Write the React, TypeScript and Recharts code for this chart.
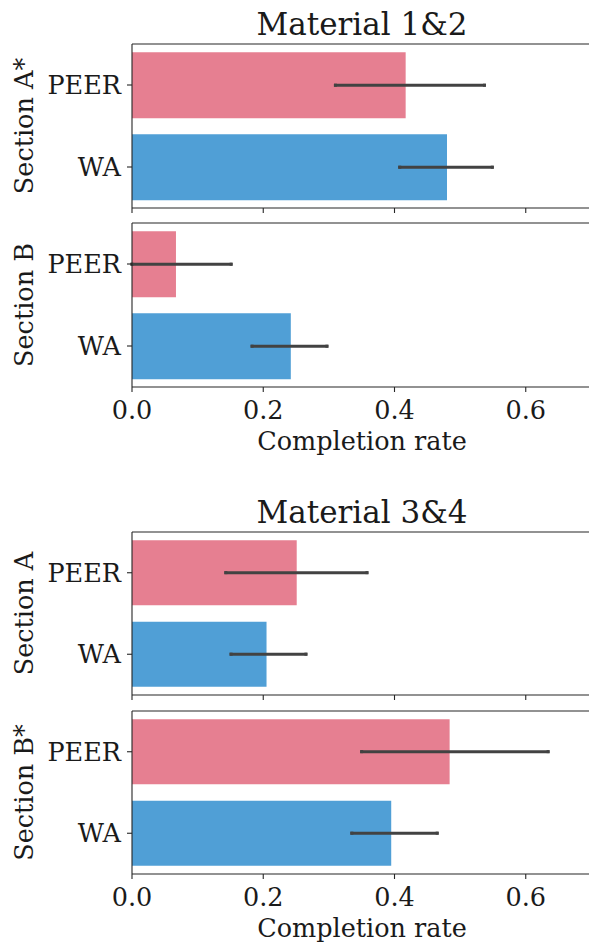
import React from "react";
import { BarChart, Bar, XAxis, YAxis, ErrorBar, Cell } from "recharts";

// categories and colours
const groups = ["PEER", "WA"];
const barColors = ["#e67f91", "#509fd6"];

// Material 1&2
const mat12SecAMean = [0.417, 0.48];
const mat12SecALow = [0.31, 0.408];
const mat12SecAHigh = [0.537, 0.549];

const mat12SecBMean = [0.067, 0.242];
const mat12SecBLow = [0.0, 0.183];
const mat12SecBHigh = [0.151, 0.297];

// Material 3&4
const mat34SecAMean = [0.251, 0.205];
const mat34SecALow = [0.143, 0.151];
const mat34SecAHigh = [0.358, 0.265];

const mat34SecBMean = [0.484, 0.395];
const mat34SecBLow = [0.35, 0.335];
const mat34SecBHigh = [0.634, 0.465];

const xTicks = [0, 0.2, 0.4, 0.6];
// the figure is cropped on the right, so the axis runs past the page edge
const xDomain: [number, number] = [0, 0.8];

const FONT = "'DejaVu Serif', serif";
const TEXT = "#1a1a1a";
const SPINE = "#262626";
const LABEL_SIZE = 25.5;

function buildRows(mean: number[], lo: number[], hi: number[]) {
  return groups.map((g, i) => ({
    group: g,
    rate: mean[i],
    err: [mean[i] - lo[i], hi[i] - mean[i]],
  }));
}

const tickStyle = { fontSize: LABEL_SIZE, fill: TEXT, fontFamily: FONT };

function SideLabel(props: any) {
  const { viewBox, text } = props;
  const cx = viewBox.x + 24;
  const cy = viewBox.y + viewBox.height / 2;
  return (
    <text
      x={cx}
      y={cy}
      transform={`rotate(-90 ${cx} ${cy})`}
      textAnchor="middle"
      dominantBaseline="central"
      fontSize={LABEL_SIZE}
      fontFamily={FONT}
      fill={TEXT}
    >
      {text}
    </text>
  );
}

function BottomLabel(props: any) {
  const { viewBox, text } = props;
  // centre on the visible part of the axes (0 .. 0.7)
  return (
    <text
      x={viewBox.x + 230}
      y={viewBox.y + 63.4}
      textAnchor="middle"
      fontSize={LABEL_SIZE}
      fontFamily={FONT}
      fill={TEXT}
    >
      {text}
    </text>
  );
}

interface PanelProps {
  top: number;
  plotH: number;
  rows: { group: string; rate: number; err: number[] }[];
  section: string;
  showTickLabels: boolean;
}

function Panel({ top, plotH, rows, section, showTickLabels }: PanelProps) {
  const axisH = showTickLabels ? 72 : 6;
  return (
    <div style={{ position: "absolute", left: 0, top: top - 2 }}>
      <BarChart
        layout="vertical"
        width={657}
        height={2 + plotH + axisH}
        data={rows}
        margin={{ top: 0, right: 0, bottom: 0, left: 0 }}
        barCategoryGap="10%"
      >
        <XAxis
          xAxisId="top"
          orientation="top"
          type="number"
          domain={xDomain}
          ticks={xTicks}
          allowDataOverflow
          height={2}
          tick={tickStyle}
          tickFormatter={() => ""}
          tickLine={false}
          axisLine={{ stroke: SPINE, strokeWidth: 1.1 }}
        />
        <XAxis
          type="number"
          domain={xDomain}
          ticks={xTicks}
          allowDataOverflow
          height={axisH}
          tickSize={5}
          tickMargin={9}
          tick={tickStyle}
          tickFormatter={(v: number) => (showTickLabels ? v.toFixed(1) : "")}
          axisLine={{ stroke: SPINE, strokeWidth: 1.1 }}
          tickLine={{ stroke: SPINE, strokeWidth: 1.1 }}
          label={showTickLabels ? <BottomLabel text="Completion rate" /> : undefined}
        />
        <YAxis
          type="category"
          dataKey="group"
          width={132}
          tickSize={5}
          tickMargin={6}
          tick={tickStyle}
          axisLine={{ stroke: SPINE, strokeWidth: 1.1 }}
          tickLine={{ stroke: SPINE, strokeWidth: 1.1 }}
          label={<SideLabel text={section} />}
        />
        <Bar dataKey="rate" isAnimationActive={false}>
          {rows.map((r, i) => (
            <Cell key={r.group} fill={barColors[i]} />
          ))}
          <ErrorBar
            dataKey="err"
            direction="x"
            width={0}
            stroke="#424242"
            strokeWidth={3}
            strokeLinecap="square"
            isAnimationActive={false}
          />
        </Bar>
      </BarChart>
    </div>
  );
}

export default function App() {
  return (
    <div
      style={{
        position: "absolute",
        left: 0,
        top: 0,
        width: 589,
        height: 943,
        overflow: "hidden",
        background: "#fff",
        fontFamily: FONT,
      }}
    >
      <Panel top={44.3} plotH={164} rows={buildRows(mat12SecAMean, mat12SecALow, mat12SecAHigh)} section="Section A*" showTickLabels={false} />
      <Panel top={223.3} plotH={164} rows={buildRows(mat12SecBMean, mat12SecBLow, mat12SecBHigh)} section="Section B" showTickLabels />
      <Panel top={531.7} plotH={163} rows={buildRows(mat34SecAMean, mat34SecALow, mat34SecAHigh)} section="Section A" showTickLabels={false} />
      <Panel top={710.7} plotH={163} rows={buildRows(mat34SecBMean, mat34SecBLow, mat34SecBHigh)} section="Section B*" showTickLabels />
      <svg width={589} height={943} style={{ position: "absolute", left: 0, top: 0, pointerEvents: "none" }}>
        <text x={362} y={35} textAnchor="middle" fontSize={31} fontFamily={FONT} fill={TEXT}>
          Material 1&amp;2
        </text>
        <text x={362} y={523.3} textAnchor="middle" fontSize={31} fontFamily={FONT} fill={TEXT}>
          Material 3&amp;4
        </text>
      </svg>
    </div>
  );
}
